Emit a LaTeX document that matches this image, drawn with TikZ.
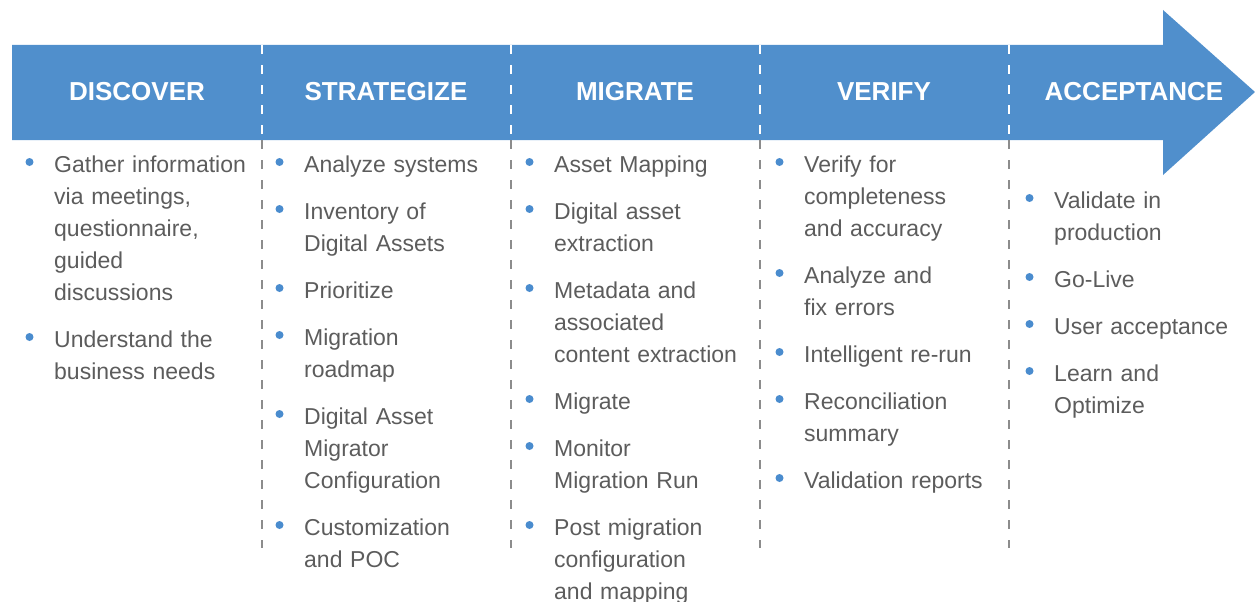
\documentclass[tikz,border=0pt]{standalone}
\usepackage{fontspec}
\setmainfont{Liberation Sans}
\usepackage{tikz}
\usetikzlibrary{calc,positioning}

\definecolor{ArrowBlue}{RGB}{80,143,204}
\definecolor{DotBlue}{RGB}{74,140,206}
\definecolor{TextGray}{RGB}{92,92,92}
\definecolor{DashGray}{RGB}{140,140,140}

\begin{document}
\begin{tikzpicture}[x=1pt,y=-1pt]

  % Styles
  \tikzstyle{phasehead}=[text=white,inner sep=0pt,font=\fontsize{26}{30}\selectfont\bfseries]
  \tikzstyle{itemtext}=[text=TextGray,inner sep=0pt,anchor=base west,align=left,text width=215pt,font=\fontsize{23}{32}\selectfont]
  \tikzstyle{divider}=[line width=1.6pt,dash pattern=on 9pt off 11pt]
  \tikzstyle{bulletdot}=[fill=DotBlue]

  % \phaseitem{<id>}{<label>}
  \newcommand{\phaseitem}[2]{node[itemtext] (#1) {#2}}

  % ===========================================================================

  \useasboundingbox (0,0) rectangle (1255,602);

  % Draw arrow
  \fill[ArrowBlue] (12,45) -- (1163,45) -- (1163,10) -- (1255,92) -- (1163,175) -- (1163,140) -- (12,140) -- cycle;

  % Draw dividers
  \foreach \x in {262,511,760,1009} {
    \draw[divider,white] (\x,45) -- (\x,140);
    \draw[divider,DashGray] (\x,140) -- (\x,548);
  }

  % Draw headers
  \node[phasehead] (discover)   at (137,92)  {DISCOVER};
  \node[phasehead] (strategize) at (386,92)  {STRATEGIZE};
  \node[phasehead] (migrate)    at (635,92)  {MIGRATE};
  \node[phasehead] (verify)     at (884,92)  {VERIFY};
  \node[phasehead] (acceptance) at (1134,92) {ACCEPTANCE};

  % Draw items
  \path (54,172)             \phaseitem{d1}{Gather information\\via meetings,\\questionnaire,\\guided\\discussions};
  \path (d1.base west) +(0,175) \phaseitem{d2}{Understand the\\business needs};

  \path (304,172)            \phaseitem{s1}{Analyze systems};
  \path (s1.base west) +(0,47)  \phaseitem{s2}{Inventory of\\Digital Assets};
  \path (s2.base west) +(0,79)  \phaseitem{s3}{Prioritize};
  \path (s3.base west) +(0,47)  \phaseitem{s4}{Migration\\roadmap};
  \path (s4.base west) +(0,79)  \phaseitem{s5}{Digital Asset\\Migrator\\Configuration};
  \path (s5.base west) +(0,111) \phaseitem{s6}{Customization\\and POC};

  \path (554,172)            \phaseitem{m1}{Asset Mapping};
  \path (m1.base west) +(0,47)  \phaseitem{m2}{Digital asset\\extraction};
  \path (m2.base west) +(0,79)  \phaseitem{m3}{Metadata and\\associated\\content extraction};
  \path (m3.base west) +(0,111) \phaseitem{m4}{Migrate};
  \path (m4.base west) +(0,47)  \phaseitem{m5}{Monitor\\Migration Run};
  \path (m5.base west) +(0,79)  \phaseitem{m6}{Post migration\\configuration\\and mapping};

  \path (804,172)            \phaseitem{v1}{Verify for\\completeness\\and accuracy};
  \path (v1.base west) +(0,111) \phaseitem{v2}{Analyze and\\fix errors};
  \path (v2.base west) +(0,79)  \phaseitem{v3}{Intelligent re-run};
  \path (v3.base west) +(0,47)  \phaseitem{v4}{Reconciliation\\summary};
  \path (v4.base west) +(0,79)  \phaseitem{v5}{Validation reports};

  \path (1054,208)           \phaseitem{a1}{Validate in\\production};
  \path (a1.base west) +(0,79)  \phaseitem{a2}{Go-Live};
  \path (a2.base west) +(0,47)  \phaseitem{a3}{User acceptance};
  \path (a3.base west) +(0,47)  \phaseitem{a4}{Learn and\\Optimize};

  % Draw bullets
  \foreach \n in {d1,d2,s1,s2,s3,s4,s5,s6,m1,m2,m3,m4,m5,m6,v1,v2,v3,v4,v5,a1,a2,a3,a4}
    \fill[bulletdot] ($(\n.base west)+(-24.5,-10)$) circle (4);

\end{tikzpicture}
\end{document}
